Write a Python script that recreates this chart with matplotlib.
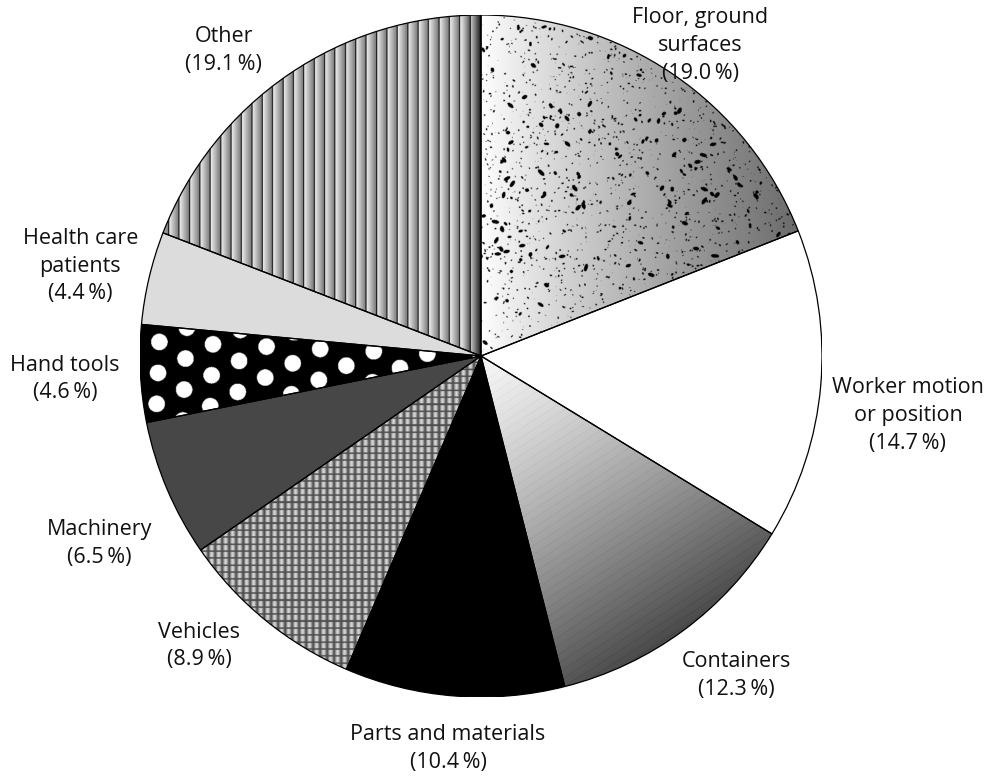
import numpy as np
import matplotlib
matplotlib.use("Agg")
import matplotlib.pyplot as plt
from matplotlib.patches import Wedge

# Injury sources, share of cases (%)
categories = ["Floor, ground\nsurfaces", "Worker motion\nor position", "Containers",
              "Parts and materials", "Vehicles", "Machinery", "Hand tools",
              "Health care\npatients", "Other"]
shares = [19.0, 14.7, 12.3, 10.4, 8.9, 6.5, 4.6, 4.4, 19.1]

# label placement: angle shift from wedge middle (deg) and distance (radius units)
label_shift = [-1.0, -3.0, 2.2, -0.3, -4.9, 3.2, 0.2, 0.6, 5.7]
label_dist = [1.115, 1.264, 1.20, 1.156, 1.186, 1.248, 1.222, 1.204, 1.171]

plt.rcParams['font.family'] = ['Open Sans', 'DejaVu Sans']

W, H = 991, 776
R_PX = 341.0
CX, CY = 481.0, 356.0

fig = plt.figure(figsize=(W / 100, H / 100), dpi=100)
ax = fig.add_axes([(CX - R_PX) / W, (H - CY - R_PX) / H, 2 * R_PX / W, 2 * R_PX / H])
ax.axis('off')

base_colors = ['#bbbbbb', 'white', '#909090', 'black', '#7a7a7a',
               '#474747', 'black', '#dcdcdc', '#a0a0a0']

wedges, _ = ax.pie(shares, startangle=90, counterclock=False, radius=1,
                   colors=base_colors, wedgeprops=dict(linewidth=0))
ax.set_xlim(-1, 1)
ax.set_ylim(-1, 1)

# pixel grid for the textured fills
N = 1400
t = np.linspace(-1, 1, N)
X, Y = np.meshgrid(t, t)
px = 1.0 / R_PX          # one screen pixel in data units
apx = N / 2.0            # array pixels per data unit


def put_texture(img, wedge):
    im = ax.imshow(img, extent=(-1, 1, -1, 1), origin='lower', cmap='gray',
                   vmin=0, vmax=1, interpolation='bilinear', zorder=2)
    im.set_clip_path(wedge)


# floor: horizontal grey ramp with black speckles
floor = 1.0 - 0.62 * np.clip(X, 0, 1) ** 0.9
rng = np.random.default_rng(11)
n_spk = 2400
sx = rng.uniform(0, 1, n_spk)
sy = rng.uniform(0, 1, n_spk)
size = np.where(rng.uniform(size=n_spk) < 0.88,
                rng.uniform(0.25, 0.8, n_spk), rng.uniform(0.8, 2.0, n_spk))
elong = rng.uniform(1.0, 2.2, n_spk)
ang = rng.uniform(0, np.pi, n_spk)
for x0, y0, s, e, a in zip(sx, sy, size, elong, ang):
    ci = int((x0 + 1) * apx)
    ri = int((y0 + 1) * apx)
    ra = s * e * 2.05
    rb = max(s * 2.05, 0.6)
    h = int(ra) + 2
    r0, r1 = max(ri - h, 0), min(ri + h + 1, N)
    c0, c1 = max(ci - h, 0), min(ci + h + 1, N)
    yy, xx = np.mgrid[r0:r1, c0:c1]
    dx = xx - ci
    dy = yy - ri
    u = dx * np.cos(a) + dy * np.sin(a)
    v = -dx * np.sin(a) + dy * np.cos(a)
    m = (u / ra) ** 2 + (v / rb) ** 2 <= 1
    floor[r0:r1, c0:c1][m] = 0.0
put_texture(floor, wedges[0])

# containers: banded ramp, light at the centre, dark towards the rim
ua = np.deg2rad(-57)
proj = np.clip(X * np.cos(ua) + Y * np.sin(ua), 0, 1)
cont = 0.97 - 0.68 * proj ** 1.2
band = (proj / 0.022) % 1.0
cont = np.where(band < 0.1, cont - 0.04, cont)
put_texture(np.clip(cont, 0, 1), wedges[2])

# vehicles: small woven cells
pv = 7.0 * px
fx = (X / pv) % 1.0
fy = (Y / pv) % 1.0
veh = 0.32 + 0.52 * np.sin(np.pi * fx) ** 1.5
veh = np.where(fy < 0.22, 0.3, veh)
veh = np.where(fx < 0.12, 0.32, veh)
put_texture(veh, wedges[4])

# hand tools: white dots on black
al = np.deg2rad(27.5)
d = 31.0 * px
lu = X * np.cos(al) + Y * np.sin(al)
lw = -X * np.sin(al) + Y * np.cos(al)
row = np.round(lw / (0.866 * d))
off = 0.5 * (row % 2)
col = np.round(lu / d - off)
du = lu - (col + off) * d
dw = lw - row * 0.866 * d
dots = np.where(du ** 2 + dw ** 2 < (8.3 * px) ** 2, 1.0, 0.0)
put_texture(dots, wedges[6])

# other: vertical shaded stripes
po = 10.4 * px
fo = (X / po) % 1.0
oth = 0.93 - 0.5 * fo
oth = np.where(fo > 0.9, 0.0, oth)
oth = oth - 0.35 * np.clip((X + 0.05) / 0.05, 0, 1)
put_texture(np.clip(oth, 0, 1), wedges[8])

# outlines on top
for w in wedges:
    ax.add_patch(Wedge(w.center, w.r, w.theta1, w.theta2, facecolor='none',
                       edgecolor='black', linewidth=0.9, zorder=3))

# labels
for w, name, val, sh, dist in zip(wedges, categories, shares, label_shift, label_dist):
    mid = np.deg2rad((w.theta1 + w.theta2) / 2 + sh)
    ax.text(dist * np.cos(mid), dist * np.sin(mid), f"{name}\n({val:.1f}\u2009%)",
            ha='center', va='center', fontsize=15.5, color='#111111',
            linespacing=1.42, zorder=4)

fig.savefig("out.png", dpi=100)
